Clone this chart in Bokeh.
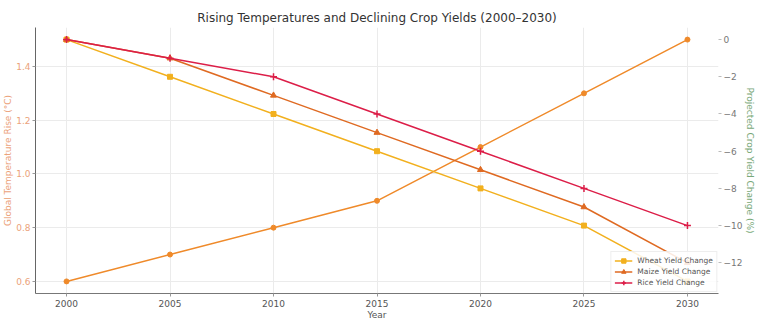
from bokeh.plotting import figure
from bokeh.models import Range1d, LinearAxis, FixedTicker, Grid, Legend, LegendItem
from bokeh.embed import file_html
from bokeh.resources import INLINE

# ---- data ----
years = [2000, 2005, 2010, 2015, 2020, 2025, 2030]
temperature = [0.6, 0.7, 0.8, 0.9, 1.1, 1.3, 1.5]
wheat = [0, -2, -4, -6, -8, -10, -13]
maize = [0, -1, -3, -5, -7, -9, -12]
rice = [0, -1, -2, -4, -6, -8, -10]
x_ticks = [2000, 2005, 2010, 2015, 2020, 2025, 2030]
temp_ticks = [0.6, 0.8, 1.0, 1.2, 1.4]
temp_tick_labels = ["0.6", "0.8", "1.0", "1.2", "1.4"]
yield_ticks = [0, -2, -4, -6, -8, -10, -12]
yield_tick_labels = ["0", "−2", "−4", "−6", "−8", "−10", "−12"]
title = "Rising Temperatures and Declining Crop Yields (2000–2030)"
series_names = ["Wheat Yield Change", "Maize Yield Change", "Rice Yield Change"]

FONT = "DejaVu Sans"
TEMP_C = "#ef8a2a"
WHEAT_C = "#f2b01e"
MAIZE_C = "#df6a22"
RICE_C = "#dc1e48"
LEFT_LAB_C = "#eba27a"
RIGHT_LAB_C = "#78a878"
GRID_C = "#ebebeb"

p = figure(width=758, height=323, output_backend="svg", toolbar_location=None,
           x_range=Range1d(1998.5, 2031.5), y_range=Range1d(0.555, 1.545),
           min_border_left=35, min_border_right=40, min_border_top=27,
           min_border_bottom=30)
p.extra_y_ranges = {"yield": Range1d(-13.65, 0.65)}
p.outline_line_color = None
p.background_fill_color = "white"

# title
p.title.text = title
p.title.align = "center"
p.title.text_font = FONT
p.title.text_font_size = "12px"
p.title.text_font_style = "normal"
p.title.text_color = "#333333"
p.title.standoff = 6

# x axis
xa = p.xaxis[0]
xa.ticker = FixedTicker(ticks=x_ticks)
xa.axis_label = "Year"
xa.axis_label_text_font = FONT
xa.axis_label_text_font_size = "9px"
xa.axis_label_text_font_style = "normal"
xa.axis_label_text_color = "#555555"
xa.axis_label_standoff = 0
xa.major_label_text_font = FONT
xa.major_label_text_font_size = "9px"
xa.major_label_text_color = "#555555"
xa.major_label_standoff = 3
xa.axis_line_color = "#777777"
xa.major_tick_line_color = "#999999"
xa.major_tick_in = 0
xa.major_tick_out = 3
xa.minor_tick_line_color = None

# left axis
ya = p.yaxis[0]
ya.ticker = FixedTicker(ticks=temp_ticks)
ya.major_label_overrides = {t: l for t, l in zip(temp_ticks, temp_tick_labels)}
ya.axis_label = "Global Temperature Rise (°C)"
ya.axis_label_text_font = FONT
ya.axis_label_text_font_size = "9px"
ya.axis_label_text_font_style = "normal"
ya.axis_label_text_color = LEFT_LAB_C
ya.axis_label_standoff = 0
ya.major_label_text_font = FONT
ya.major_label_text_font_size = "9px"
ya.major_label_text_color = LEFT_LAB_C
ya.major_label_standoff = 2
ya.axis_line_color = "#666666"
ya.major_tick_line_color = "#999999"
ya.major_tick_in = 0
ya.major_tick_out = 3
ya.minor_tick_line_color = None

# right axis
ra = LinearAxis(y_range_name="yield", ticker=FixedTicker(ticks=yield_ticks))
ra.major_label_overrides = {t: l for t, l in zip(yield_ticks, yield_tick_labels)}
ra.axis_label = "Projected Crop Yield Change (%)"
ra.axis_label_text_font = FONT
ra.axis_label_text_font_size = "9px"
ra.axis_label_text_font_style = "normal"
ra.axis_label_text_color = RIGHT_LAB_C
ra.axis_label_standoff = 0
ra.major_label_text_font = FONT
ra.major_label_text_font_size = "9px"
ra.major_label_text_color = "#777777"
ra.major_label_standoff = 2
ra.axis_line_color = None
ra.major_tick_line_color = "#bbbbbb"
ra.major_tick_in = 0
ra.major_tick_out = 3
ra.minor_tick_line_color = None
p.add_layout(ra, "right")

# grids
p.xgrid.grid_line_color = GRID_C
p.ygrid.grid_line_color = GRID_C
rgrid = Grid(dimension=1, axis=ra, ticker=ra.ticker, grid_line_color=GRID_C)
p.add_layout(rgrid)

# temperature
p.line(years, temperature, line_color=TEMP_C, line_width=1.5)
p.scatter(years, temperature, marker="circle", size=5, color=TEMP_C)

# yields
wl = p.line(years, wheat, line_color=WHEAT_C, line_width=1.5, y_range_name="yield")
ws = p.scatter(years, wheat, marker="square", size=5, color=WHEAT_C, y_range_name="yield")
ml = p.line(years, maize, line_color=MAIZE_C, line_width=1.5, y_range_name="yield")
ms = p.scatter(years, maize, marker="triangle", size=6, color=MAIZE_C, y_range_name="yield")
rl = p.line(years, rice, line_color=RICE_C, line_width=1.5, y_range_name="yield")
rs = p.scatter(years, rice, marker="cross", size=7, line_width=1.5, color=RICE_C, y_range_name="yield")

legend = Legend(items=[
    LegendItem(label=series_names[0], renderers=[wl, ws]),
    LegendItem(label=series_names[1], renderers=[ml, ms]),
    LegendItem(label=series_names[2], renderers=[rl, rs]),
], location="bottom_right")
legend.margin = 1
legend.padding = 3
legend.spacing = 0
legend.label_height = 11
legend.glyph_height = 11
legend.glyph_width = 18
legend.label_standoff = 5
legend.label_text_font = FONT
legend.label_text_font_size = "7.5px"
legend.label_text_color = "#555555"
legend.border_line_color = "#dddddd"
legend.background_fill_alpha = 0.85
p.add_layout(legend)

open("out.html", "w").write(file_html(p, INLINE))
